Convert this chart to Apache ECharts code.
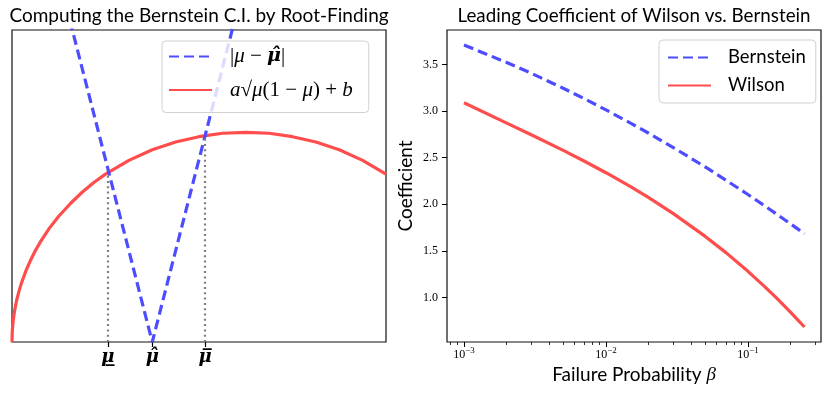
<!DOCTYPE html>
<html>
<head>
<meta charset="utf-8">
<script src="https://cdn.jsdelivr.net/npm/echarts@6/dist/echarts.min.js"></script>
<style>
  html, body { margin: 0; padding: 0; background: #fff; }
  #chart { width: 830px; height: 394px; }
</style>
</head>
<body>
<div id="chart"></div>
<script>
// left panel: mu grid and the bound a*sqrt(mu(1-mu))+b
const muGrid = [0, 0.0005, 0.001, 0.002, 0.003, 0.005, 0.0075, 0.01, 0.015, 0.02, 0.03, 0.04, 0.05, 0.06, 0.08, 0.1,
  0.125, 0.15, 0.175, 0.2, 0.25, 0.3, 0.35, 0.4, 0.45, 0.5, 0.55, 0.6, 0.65, 0.7, 0.75, 0.8];
const boundVals = [0, 0.030, 0.043, 0.060, 0.074, 0.095, 0.116, 0.134, 0.163, 0.188, 0.229, 0.263, 0.293, 0.319, 0.365, 0.403,
  0.444, 0.480, 0.511, 0.538, 0.582, 0.616, 0.641, 0.658, 0.669, 0.672, 0.669, 0.658, 0.641, 0.616, 0.582, 0.538];
// |mu - mu_hat|, scaled
const absMu = [0.1, 0.3, 0.5];
const absVals = [1.17, 0, 1.17];
// roots
const rootMu = [0.205, 0.413];
const rootY = [0.543, 0.662];
const muTickValues = [0.205, 0.3, 0.413];
const muTickLabels = ['{u|\u03bc\u0332}', '{u|\u03bc\u0302}', '{u|\u03bc\u0305}'];

// right panel
const beta = [0.001, 0.002, 0.003, 0.005, 0.007, 0.01, 0.015, 0.02, 0.03, 0.05, 0.07, 0.1, 0.13, 0.16, 0.2, 0.25];
const bernstein = [3.711, 3.523, 3.405, 3.246, 3.136, 3.014, 2.869, 2.763, 2.607, 2.401, 2.259, 2.105, 1.987, 1.893, 1.789, 1.684];
const wilson = [3.090, 2.872, 2.744, 2.579, 2.465, 2.339, 2.186, 2.071, 1.897, 1.655, 1.481, 1.280, 1.121, 0.989, 0.840, 0.682];
const coefTicks = [1.0, 1.5, 2.0, 2.5, 3.0, 3.5];
const betaMajor = [0.001, 0.01, 0.1];
const betaMajorExp = ['\u22123', '\u22122', '\u22121'];
const betaMinor = [0.0008, 0.0009, 0.002, 0.003, 0.004, 0.005, 0.006, 0.007, 0.008, 0.009,
  0.02, 0.03, 0.04, 0.05, 0.06, 0.07, 0.08, 0.09, 0.2, 0.3];

const BLUE = '#4d4dff';
const RED = '#ff4d4d';
const SANS = 'Lato';
const SERIF = 'Liberation Serif';

const chart = echarts.init(document.getElementById('chart'));

const lg = Math.log10;

chart.setOption({
  animation: false,
  backgroundColor: '#fff',
  title: [
    {
      text: 'Computing the Bernstein C.I. by Root-Finding',
      left: 199, top: 6, textAlign: 'center', padding: 0,
      textStyle: { fontFamily: SANS, fontSize: 19, fontWeight: 'normal', color: '#000' }
    },
    {
      text: 'Leading Coefficient of Wilson vs. Bernstein',
      left: 634, top: 6, textAlign: 'center', padding: 0,
      textStyle: { fontFamily: SANS, fontSize: 18.8, fontWeight: 'normal', color: '#000' }
    }
  ],
  legend: [
    {
      orient: 'vertical', left: 162, top: 41,
      padding: [5, 16, 12, 6],
      itemWidth: 43, itemHeight: 24, itemGap: 12.5,
      backgroundColor: 'rgba(255,255,255,0.8)',
      borderColor: '#d0d0d0', borderWidth: 1, borderRadius: 4,
      itemStyle: { opacity: 0 },
      data: ['absdev', 'bound'],
      formatter: function (name) {
        if (name === 'absdev') {
          return '{r||}{i|\u03bc}{r| \u2212 }{b|\u03bc\u0302}{r||}';
        }
        return '{i|a}{r|\u221a}{i|\u03bc}{r|(1 \u2212 }{i|\u03bc}{r|) + }{i|b}';
      },
      textStyle: {
        padding: [0, 0, 0, 13],
        rich: {
          r: { fontFamily: SERIF, fontSize: 21, color: '#000', lineHeight: 24 },
          i: { fontFamily: SERIF, fontSize: 21, fontStyle: 'italic', color: '#000', lineHeight: 24 },
          b: { fontFamily: 'DejaVu Serif', fontSize: 19, fontStyle: 'italic', fontWeight: 'bold', color: '#000', lineHeight: 24 }
        }
      }
    },
    {
      orient: 'vertical', left: 659, top: 40,
      padding: [8, 10, 8, 8],
      itemWidth: 43, itemHeight: 20, itemGap: 9,
      backgroundColor: 'rgba(255,255,255,0.8)',
      borderColor: '#d0d0d0', borderWidth: 1, borderRadius: 4,
      itemStyle: { opacity: 0 },
      data: ['Bernstein', 'Wilson'],
      textStyle: { fontFamily: SANS, fontSize: 18.5, color: '#000', padding: [0, 0, 0, 12] }
    }
  ],
  grid: [
    { left: 12, top: 30, width: 374, height: 312, show: true, borderColor: '#111', borderWidth: 1.2, backgroundColor: 'transparent' },
    { left: 447, top: 30, width: 374, height: 312, show: true, borderColor: '#111', borderWidth: 1.2, backgroundColor: 'transparent' }
  ],
  xAxis: [
    {
      type: 'value', gridIndex: 0, min: 0, max: 0.8,
      axisLine: { show: false }, splitLine: { show: false },
      axisTick: { show: true, customValues: muTickValues, length: 5, lineStyle: { color: '#000', width: 1.2 } },
      axisLabel: {
        customValues: muTickValues, margin: 6,
        formatter: function (v) { return muTickLabels[muTickValues.indexOf(v)]; },
        rich: { u: { fontFamily: 'DejaVu Serif', fontSize: 18, fontWeight: 'bold', fontStyle: 'italic', color: '#000' } }
      }
    },
    {
      type: 'value', gridIndex: 1, position: 'bottom', min: lg(0.000759), max: lg(0.327),
      axisLine: { show: false }, splitLine: { show: false },
      axisTick: { show: true, customValues: betaMajor.map(lg), length: 5, lineStyle: { color: '#000', width: 1 } },
      axisLabel: {
        customValues: betaMajor.map(lg), margin: 4,
        formatter: function (v) {
          let k = 0, best = 1e9;
          betaMajor.forEach(function (b, i) { const d = Math.abs(lg(b) - v); if (d < best) { best = d; k = i; } });
          return '{b|10}{s|' + betaMajorExp[k] + '}';
        },
        rich: {
          b: { fontFamily: SERIF, fontSize: 12, color: '#000' },
          s: { fontFamily: SERIF, fontSize: 9, color: '#000', padding: [0, 0, 8, 0] }
        }
      }
    },
    {
      type: 'value', gridIndex: 1, position: 'bottom', offset: 0, min: lg(0.000759), max: lg(0.327),
      axisLine: { show: false }, splitLine: { show: false }, axisLabel: { show: false },
      axisTick: { show: true, customValues: betaMinor.map(lg), length: 3, lineStyle: { color: '#000', width: 0.8 } }
    }
  ],
  yAxis: [
    {
      type: 'value', gridIndex: 0, min: 0, max: 1,
      axisLine: { show: false }, axisTick: { show: false }, axisLabel: { show: false }, splitLine: { show: false }
    },
    {
      type: 'value', gridIndex: 1, min: 0.521, max: 3.872,
      axisLine: { show: false }, splitLine: { show: false },
      axisTick: { show: true, customValues: coefTicks, length: 5, lineStyle: { color: '#000', width: 1 } },
      axisLabel: {
        customValues: coefTicks, margin: 9,
        formatter: function (v) { return v.toFixed(1); },
        fontFamily: SERIF, fontSize: 12, color: '#000'
      },
      name: 'Coefficient', nameLocation: 'middle', nameGap: 32, nameRotate: 90,
      nameTextStyle: { fontFamily: SANS, fontSize: 19, color: '#000' }
    }
  ],
  series: [
    {
      name: 'bound', type: 'line', xAxisIndex: 0, yAxisIndex: 0,
      data: muGrid.map(function (m, i) { return [m, boundVals[i]]; }),
      showSymbol: false, symbol: 'none', z: 2,
      lineStyle: { color: RED, width: 3.2, join: 'round' }, itemStyle: { color: RED }
    },
    {
      name: 'absdev', type: 'line', xAxisIndex: 0, yAxisIndex: 0,
      data: absMu.map(function (m, i) { return [m, absVals[i]]; }),
      showSymbol: false, symbol: 'none', z: 3,
      lineStyle: { color: BLUE, width: 3.2, type: [10, 5] }, itemStyle: { color: BLUE },
      markLine: {
        silent: true, symbol: 'none', label: { show: false },
        lineStyle: { color: '#7f7f7f', width: 2.2, type: [2, 3.3] },
        data: rootMu.map(function (m, i) { return [{ coord: [m, 0] }, { coord: [m, rootY[i]] }]; })
      }
    },
    {
      name: 'Bernstein', type: 'line', xAxisIndex: 1, yAxisIndex: 1,
      data: beta.map(function (b, i) { return [lg(b), bernstein[i]]; }),
      showSymbol: false, symbol: 'none',
      lineStyle: { color: BLUE, width: 3.2, type: [10, 5] }, itemStyle: { color: BLUE }
    },
    {
      name: 'Wilson', type: 'line', xAxisIndex: 1, yAxisIndex: 1,
      data: beta.map(function (b, i) { return [lg(b), wilson[i]]; }),
      showSymbol: false, symbol: 'none',
      lineStyle: { color: RED, width: 3.2, join: 'round' }, itemStyle: { color: RED }
    }
  ],
  graphic: [
    {
      type: 'text', x: 634, y: 375,
      style: {
        text: '{a|Failure Probability }{m|\u03b2}',
        align: 'center', verticalAlign: 'middle',
        rich: {
          a: { fontFamily: SANS, fontSize: 19, color: '#000' },
          m: { fontFamily: SERIF, fontSize: 19, fontStyle: 'italic', color: '#000' }
        }
      }
    }
  ]
});
</script>
</body>
</html>
